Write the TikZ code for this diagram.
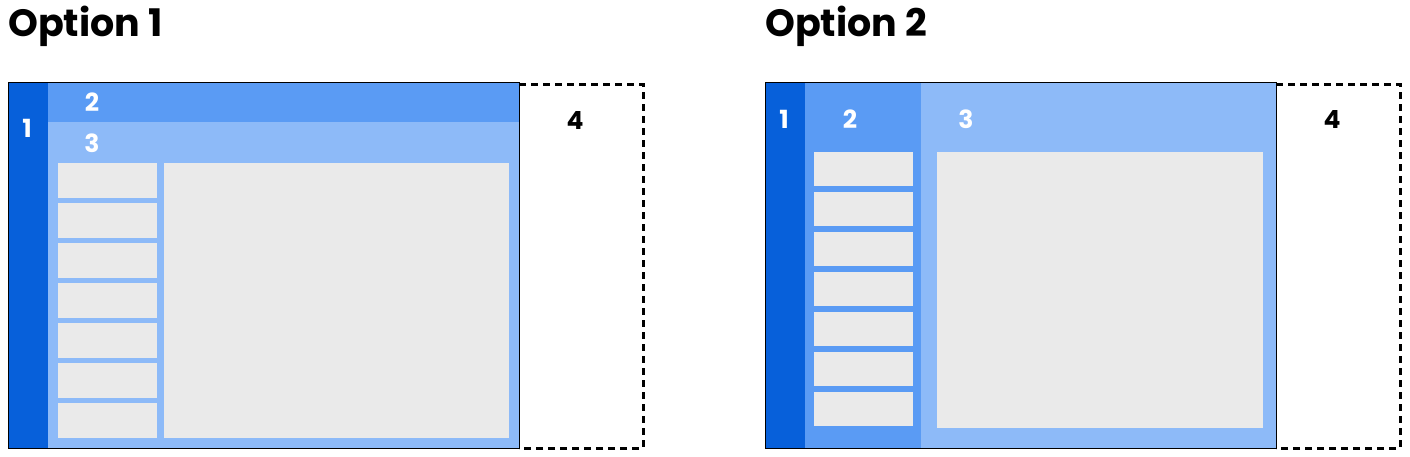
\documentclass[tikz,border=0pt]{standalone}
\usepackage{fontspec}
\setmainfont{Poppins}[BoldFont={* Bold}]
\definecolor{dk}{HTML}{0760DA}
\definecolor{md}{HTML}{5A9BF4}
\definecolor{lt}{HTML}{8DBAF8}
\definecolor{gr}{HTML}{EAEAEA}
\begin{document}
\begin{tikzpicture}[x=1pt,y=-1pt,
  title/.style={anchor=base west,inner sep=0,font=\bfseries\fontsize{38}{40}\selectfont},
  lab/.style={text=white,inner sep=0,font=\bfseries\fontsize{25}{26}\selectfont},
  blab/.style={lab,text=black},
  item/.style={fill=gr,draw=none},
  dashbox/.style={draw=black,line width=3pt,dash pattern=on 7pt off 5pt}]
\useasboundingbox (0,0) rectangle (1410,456);
% Option 1
\node[title] (t1) at (8,36) {Option 1};
\fill[md] (48,82) rectangle (519,122);
\fill[lt] (48,122) rectangle (519,448);
\fill[dk] (8,82) rectangle (48,448);
\foreach \i in {0,...,6}{\fill[item] (58,163+40*\i) rectangle (157,198+40*\i);}
\node[item,minimum width=345pt,minimum height=275pt,anchor=north west,inner sep=0] (c1) at (164,163) {};
\draw[black,line width=1pt] (8,82) rectangle (519,448);
\draw[dashbox] (519,84) -- (643,84) -- (643,448) -- (519,448);
\node[lab] (a1) at (27,128) {1};
\node[lab] (a2) at (92,102) {2};
\node[lab] (a3) at (92,143) {3};
\node[blab] (a4) at (575,120) {4};
% Option 2
\node[title] (t2) at (765,36) {Option 2};
\fill[dk] (765,82) rectangle (805,448);
\fill[md] (805,82) rectangle (921,448);
\fill[lt] (921,82) rectangle (1276,448);
\foreach \i in {0,...,6}{\fill[item] (814,152+40*\i) rectangle (913,186+40*\i);}
\node[item,minimum width=326pt,minimum height=276pt,anchor=north west,inner sep=0] (c2) at (937,152) {};
\draw[black,line width=1pt] (765,82) rectangle (1276,448);
\draw[dashbox] (1276,84) -- (1400,84) -- (1400,448) -- (1276,448);
\node[lab] (b1) at (784,119) {1};
\node[lab] (b2) at (850,119) {2};
\node[lab] (b3) at (966,119) {3};
\node[blab] (b4) at (1332,119) {4};
\end{tikzpicture}
\end{document}
